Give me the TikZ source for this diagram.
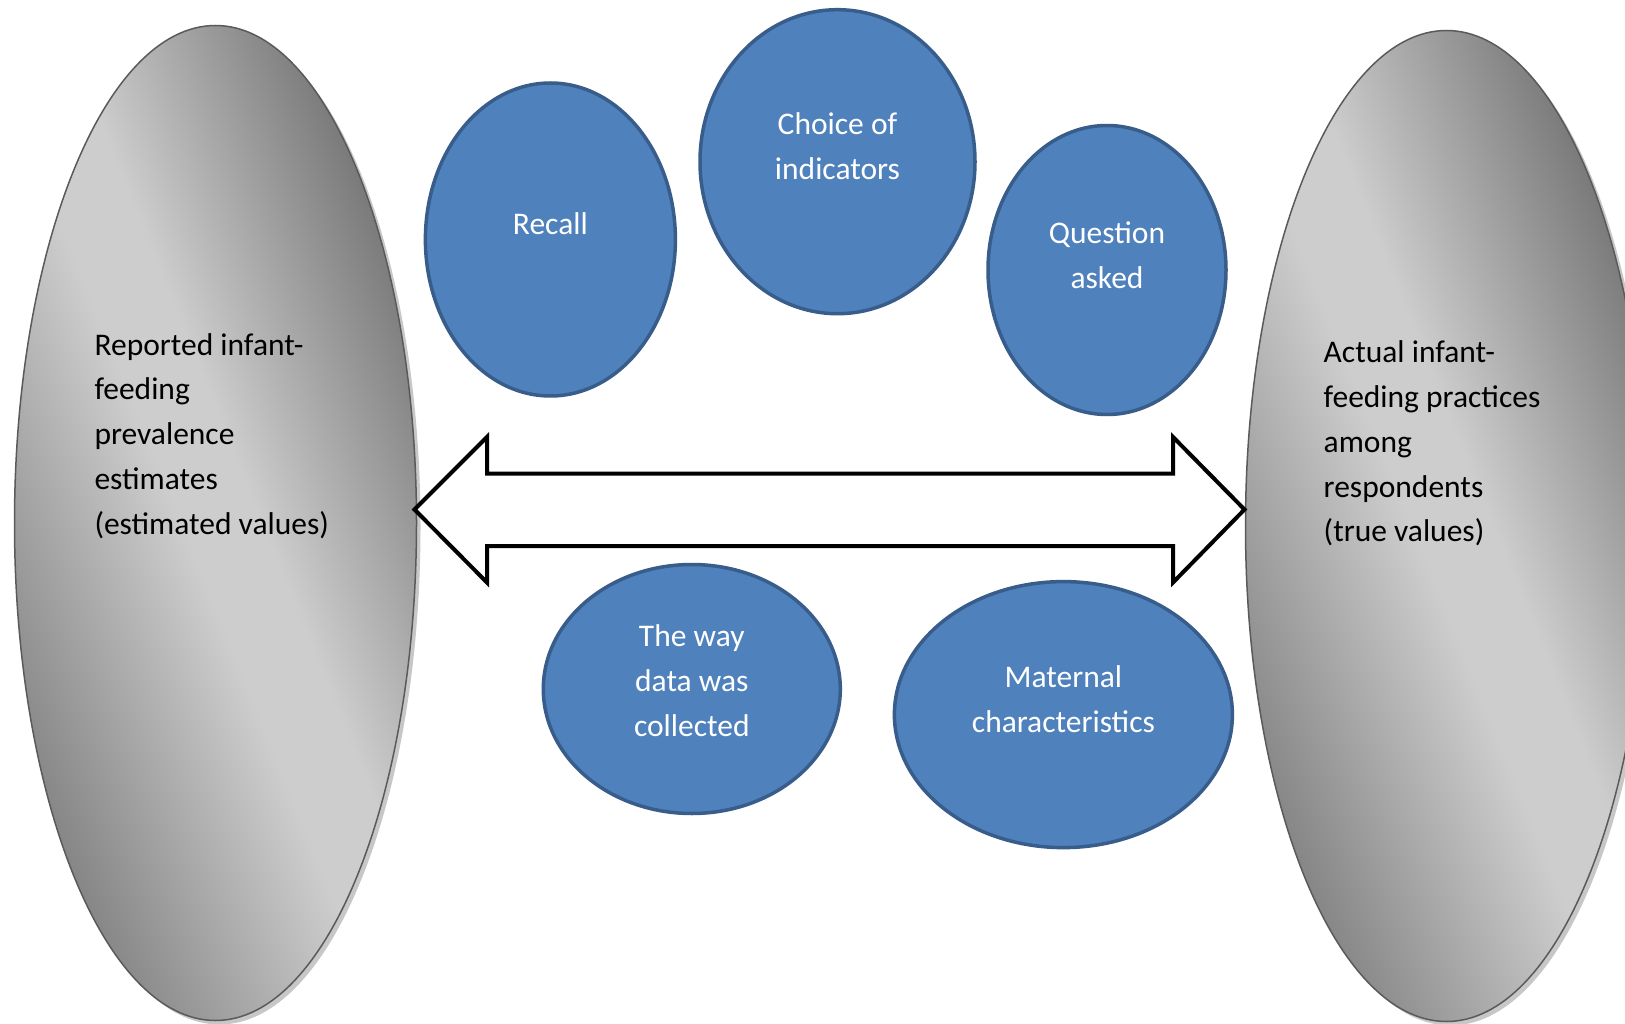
\documentclass[tikz,border=0pt]{standalone}
\usepackage{fontspec}
\setmainfont{Carlito}
\usetikzlibrary{shapes.geometric,calc}
\definecolor{bluefill}{HTML}{4F81BD}
\definecolor{blueline}{HTML}{385D8A}
\definecolor{ellline}{HTML}{5A5A5A}
\definecolor{gdark}{HTML}{7A7A7A}
\definecolor{glight}{HTML}{CDCDCD}
\definecolor{gmid}{HTML}{868686}
\pgfdeclarehorizontalshading{grayell}{100bp}{color(0bp)=(gmid); color(25bp)=(gmid); color(47bp)=(glight); color(54bp)=(glight); color(75bp)=(gdark); color(100bp)=(gdark)}
\begin{document}
\begin{tikzpicture}[x=1pt,y=-1pt,
  bigell/.style={ellipse, draw=ellline, line width=1.5pt, inner sep=0},
  shadowell/.style={ellipse, fill=black!22, inner sep=0, draw=none},
  factor/.style={ellipse, draw=blueline, line width=3.5pt, fill=bluefill, inner sep=0},
  ftext/.style={text=white, font=\fontsize{31.5}{45}\selectfont, align=center, inner sep=0},
  btext/.style={text=black, font=\fontsize{31.5}{44.8}\selectfont, align=left, inner sep=0, anchor=west},
  bigarrow/.style={draw=black, line width=4pt, fill=white, line join=miter}
]
\useasboundingbox (0,0) rectangle (1625,1024);
\fill[white] (0,0) rectangle (1625,1024);

% shadows
\node[shadowell, minimum width=402, minimum height=995] (lshadow) at (219.5,527) {};
\node[shadowell, minimum width=402, minimum height=991] (rshadow) at (1450.5,530) {};

% diagonal gradient fills
\begin{scope}[transform canvas={shift={(215.5,523)}, rotate=22}]
  \clip[rotate=-22] (0,0) ellipse [x radius=201, y radius=497.5];
  \shade[shading=grayell] (-264,-600) rectangle (264,600);
\end{scope}
\begin{scope}[transform canvas={shift={(1446.5,526)}, rotate=22}]
  \clip[rotate=-22] (0,0) ellipse [x radius=201, y radius=495.5];
  \shade[shading=grayell] (-264,-600) rectangle (264,600);
\end{scope}

% big ellipses (outlines)
\node[bigell, minimum width=402, minimum height=995] (left) at (215.5,523) {};
\node[bigell, minimum width=402, minimum height=991] (right) at (1446.5,526) {};

\node[btext] (lefttext) at (94.3,436) {Reported infant-\\feeding\\prevalence\\estimates\\(estimated values)};
\node[btext] (righttext) at (1323.5,443.5) {Actual infant-\\feeding practices\\among\\respondents\\(true values)};

% double arrow
\coordinate (ltip) at (414.5,509.5);
\coordinate (rtip) at (1244.5,509.5);
\draw[bigarrow] (ltip) -- (487,437) -- (487,473.5) -- (1173,473.5) -- (1173,437) -- (rtip) -- (1173,582.5) -- (1173,546) -- (487,546) -- (487,582.5) -- cycle;

% factors
\node[factor, minimum width=250, minimum height=313] (recall) at (550.4,239.5) {};
\node[ftext] (recallt) at (550.4,224) {Recall};
\node[factor, minimum width=275, minimum height=304] (choice) at (837.5,161.7) {};
\node[ftext] (choicet) at (837.5,146) {Choice of\\indicators};
\node[factor, minimum width=238, minimum height=289] (question) at (1107,270) {};
\node[ftext] (questiont) at (1107,255) {Question\\asked};
\node[factor, minimum width=297, minimum height=249] (way) at (691.8,689) {};
\node[ftext] (wayt) at (691.8,681) {The way\\data was\\collected};
\node[factor, minimum width=338, minimum height=266] (maternal) at (1063.4,714.6) {};
\node[ftext] (maternalt) at (1063.4,699) {Maternal\\characteristics};
\end{tikzpicture}
\end{document}
